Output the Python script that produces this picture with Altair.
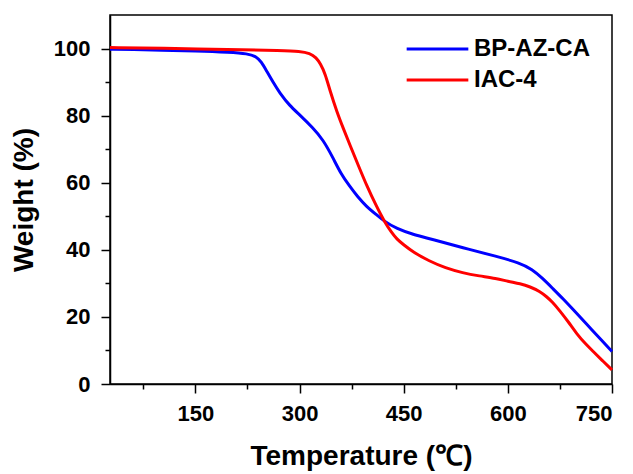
import altair as alt
import pandas as pd

series_names = ["BP-AZ-CA", "IAC-4"]
series_colors = ["#0000ff", "#ff0000"]

blue_t = [27, 60, 100, 150, 200, 225, 238, 245, 252, 262, 271, 286, 300, 319, 334, 348, 360, 372,
          384, 396, 410, 422, 440, 463, 490, 535, 583, 617, 635, 650, 664, 680, 694, 712, 736, 750]
blue_w = [99.8, 99.7, 99.5, 99.3, 98.9, 98.5, 97.6, 96.0, 93.5, 89.9, 86.9, 82.9, 80.3, 76.4, 72.8,
          67.5, 62.5, 59.0, 55.7, 53.0, 50.6, 48.5, 46.3, 44.6, 43.2, 40.6, 38.1, 36.1, 34.2, 31.5,
          28.6, 25.3, 22.2, 18.2, 12.8, 9.7]

red_t = [27, 100, 200, 276, 300, 315, 324, 330, 337, 344, 354, 363, 373, 385, 397, 410, 422, 432,
         440, 450, 463, 487, 510, 535, 559, 583, 600, 618, 632, 646, 656, 664, 675, 688, 699, 712,
         723, 736, 750]
red_w = [100.3, 100.1, 99.7, 99.4, 99.2, 98.6, 97.3, 95.5, 92.5, 87.3, 81.0, 76.2, 71.0, 65.0, 59.0,
         53.3, 48.5, 45.3, 43.2, 41.5, 39.4, 36.6, 34.6, 33.1, 32.2, 31.5, 30.6, 29.9, 29.0, 27.6,
         26.0, 24.5, 21.8, 18.3, 15.0, 11.9, 9.7, 7.0, 4.2]

x_major = [150, 300, 450, 600, 750]
x_minor = [75, 225, 375, 525, 675]
y_major = [0, 20, 40, 60, 80, 100]
y_minor = [10, 30, 50, 70, 90]

df = pd.concat([
    pd.DataFrame({"T": blue_t, "W": blue_w, "series": series_names[0], "order": 0}),
    pd.DataFrame({"T": red_t, "W": red_w, "series": series_names[1], "order": 1}),
])

FONT = "Liberation Sans"

x_axis = alt.Axis(
    values=sorted(x_major + x_minor),
    labelExpr="datum.value % 150 === 0 ? datum.label : ''",
    tickSize={"condition": {"test": "datum.value % 150 === 0", "value": 9}, "value": 5},
    labelBaseline="alphabetic",
    labelPadding=27,
    title="Temperature (℃)",
    titleX=251, titleY=80, titleAlign="center", titleBaseline="alphabetic",
    titleFontSize=28,
)
y_axis = alt.Axis(
    values=sorted(y_major + y_minor),
    labelExpr="datum.value % 20 === 0 ? datum.label : ''",
    tickSize={"condition": {"test": "datum.value % 20 === 0", "value": 9}, "value": 5},
    labelPadding=11,
    title="Weight (%)",
    titleX=-86, titleY=184.5, titleAngle=270, titleAlign="center", titleBaseline="middle",
    titleFontSize=28,
)

chart = alt.Chart(df).mark_line(strokeWidth=3, interpolate="basis").encode(
    x=alt.X("T:Q", scale=alt.Scale(domain=[27, 750], nice=False, zero=False), axis=x_axis),
    y=alt.Y("W:Q", scale=alt.Scale(domain=[0, 110], nice=False), axis=y_axis),
    color=alt.Color("series:N", scale=alt.Scale(domain=series_names, range=series_colors),
                    legend=alt.Legend(
                        title=None, orient="none", legendX=300, legendY=22,
                        symbolType="M-4.36,0H4.36", symbolSize=200, symbolStrokeWidth=3,
                        symbolOffset=15.5, labelOffset=24.5, padding=0, rowPadding=7,
                        labelFontSize=24, labelFont=FONT, labelFontWeight="bold",
                        labelColor="black", labelBaseline="middle",
                    )),
    order="order:Q",
).properties(
    width=502, height=369,
    autosize=alt.AutoSizeParams(type="none"),
    padding={"left": 102, "top": 7, "right": 13, "bottom": 90},
).configure_view(
    stroke="black", strokeWidth=1.5
).configure_axis(
    grid=False, domainColor="black", domainWidth=1.5, tickColor="black", tickWidth=1.5,
    labelFont=FONT, labelFontWeight="bold", labelFontSize=22, labelColor="black",
    titleFont=FONT, titleFontWeight="bold", titleColor="black",
)

chart.save("out.html", embed_options={"renderer": "svg", "actions": False})
